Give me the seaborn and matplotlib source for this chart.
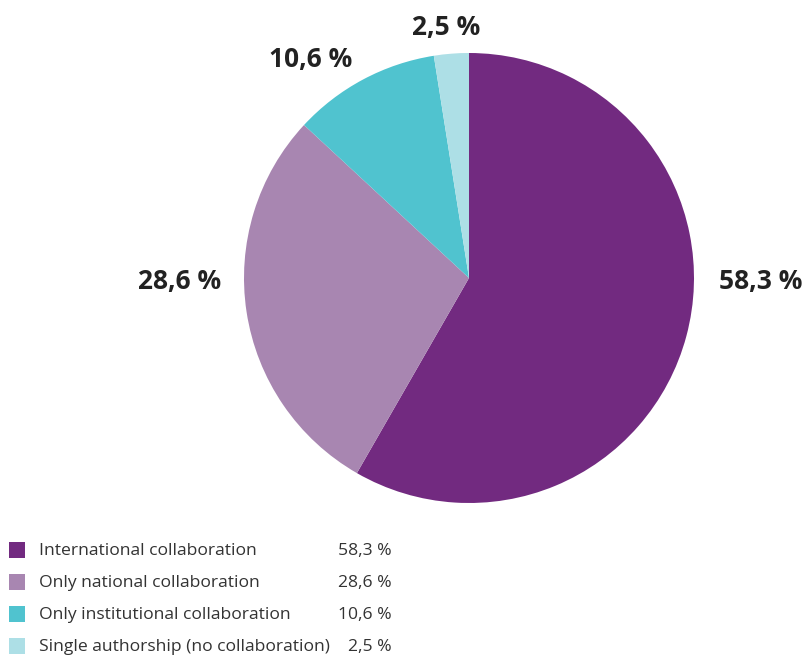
import matplotlib
matplotlib.use("Agg")
import matplotlib.pyplot as plt
import seaborn as sns
from matplotlib.patches import Rectangle

categories = ["International collaboration", "Only national collaboration",
              "Only institutional collaboration", "Single authorship (no collaboration)"]
values = [58.3, 28.6, 10.6, 2.5]
value_labels = ["58,3 %", "28,6 %", "10,6 %", "2,5 %"]
colors = ["#722A80", "#A886B1", "#50C3CF", "#ADDFE6"]

sns.set_theme(style="white")
plt.rcParams["font.family"] = ["Open Sans", "DejaVu Sans"]

W, H = 809, 657
fig = plt.figure(figsize=(W / 100, H / 100), dpi=100)
fig.patch.set_facecolor("white")

cx, cy, r = 469, 278, 225
ax = fig.add_axes([(cx - r) / W, 1 - (cy + r) / H, 2 * r / W, 2 * r / H])
ax.pie(values, colors=colors, startangle=90, counterclock=False, radius=1,
       wedgeprops=dict(linewidth=0))
ax.set_xlim(-1, 1)
ax.set_ylim(-1, 1)
ax.set_aspect("equal")
ax.axis("off")

# outer value labels (pixel positions of label centers)
label_pos = [(761, 282), (180, 282), (311, 59), (446, 28)]
for (px, py), txt in zip(label_pos, value_labels):
    fig.text(px / W, 1 - py / H, txt, ha="center", va="center",
             fontsize=19, fontweight="bold", color="#222222")

# legend
row_y = [551, 583, 615, 647]
for y, cat, lab, col in zip(row_y, categories, value_labels, colors):
    fig.patches.append(Rectangle((9 / W, 1 - (y + 7) / H), 16 / W, 16 / H,
                                 transform=fig.transFigure, facecolor=col,
                                 edgecolor="none"))
    fig.text(39 / W, 1 - y / H, cat, ha="left", va="center",
             fontsize=12.6, color="#333333")
    fig.text(392 / W, 1 - y / H, lab, ha="right", va="center",
             fontsize=12.6, color="#333333")

fig.savefig("out.png", dpi=100, facecolor="white")
